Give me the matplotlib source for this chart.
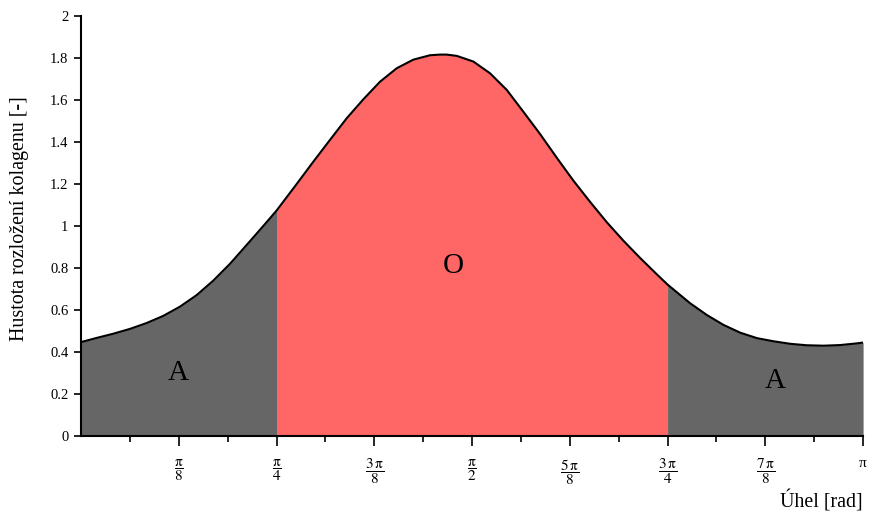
import numpy as np
import matplotlib
matplotlib.use("Agg")
import matplotlib.pyplot as plt

plt.rcParams['font.family'] = ['Liberation Serif', 'DejaVu Serif']
plt.rcParams['mathtext.fontset'] = 'stix'

# angle [rad] and density
angle = [0.0, 0.0630, 0.1299, 0.1968, 0.2639, 0.3306, 0.3977, 0.4648, 0.5315,
         0.5986, 0.6657, 0.7324, np.pi/4, 0.8665, 0.9332, 1.0003, 1.0674, 1.1341,
         1.2012, 1.2683, 1.3350, 1.4021, 1.4422, 1.4692, 1.5093, 1.5760, 1.6431,
         1.7102, 1.7769, 1.8440, 1.9111, 1.9778, 2.0449, 2.1120, 2.1787, 2.2458,
         2.3129, 3*np.pi/4, 2.4470, 2.5141, 2.5808, 2.6479, 2.7150, 2.7817, 2.8488,
         2.9155, 2.9826, 3.0497, 3.1164, np.pi]
density = [0.447, 0.467, 0.487, 0.510, 0.538, 0.572, 0.616, 0.671, 0.740,
           0.820, 0.910, 1.000, 1.073, 1.200, 1.306, 1.410, 1.513, 1.603,
           1.687, 1.751, 1.792, 1.813, 1.816, 1.816, 1.810, 1.783, 1.727,
           1.648, 1.544, 1.438, 1.325, 1.216, 1.115, 1.018, 0.930, 0.848,
           0.770, 0.721, 0.632, 0.576, 0.529, 0.492, 0.466, 0.451, 0.439,
           0.432, 0.430, 0.433, 0.441, 0.445]

x_ticks = [k*np.pi/8 for k in range(1, 9)]
x_labels = [r'$\dfrac{\mathrm{\pi}}{8}$', r'$\dfrac{\mathrm{\pi}}{4}$',
            r'$\dfrac{3\,\mathrm{\pi}}{8}$', r'$\dfrac{\mathrm{\pi}}{2}$',
            r'$\dfrac{5\,\mathrm{\pi}}{8}$', r'$\dfrac{3\,\mathrm{\pi}}{4}$',
            r'$\dfrac{7\,\mathrm{\pi}}{8}$', 'π']
x_minor = [k*np.pi/16 for k in range(1, 16, 2)]
y_ticks = [0, 0.2, 0.4, 0.6, 0.8, 1.0, 1.2, 1.4, 1.6, 1.8, 2.0]
y_labels = ['0', '0.2', '0.4', '0.6', '0.8', '1', '1.2', '1.4', '1.6', '1.8', '2']

region_labels = ['A', 'O', 'A']
region_pos = [(0.39, 0.30), (1.495, 0.81), (2.79, 0.26)]

x = np.array(angle)
y = np.array(density)

fig = plt.figure(figsize=(8.69, 5.15), dpi=100)
ax = fig.add_axes([0.0932, 0.1534, 0.9, 0.8156])

gray = '#666666'
red = '#FF6666'
lo, hi = np.pi/4, 3*np.pi/4
ax.fill_between(x, 0, y, where=(x <= lo + 1e-9), color=gray, lw=0)
ax.fill_between(x, 0, y, where=(x >= lo - 1e-9) & (x <= hi + 1e-9), color=red, lw=0)
ax.fill_between(x, 0, y, where=(x >= hi - 1e-9), color=gray, lw=0)
ax.plot(x, y, color='black', lw=1.5, solid_joinstyle='round')

for t, (px, py) in zip(region_labels, region_pos):
    ax.text(px, py, t, fontsize=21, ha='center', va='center', color='black')

ax.set_xlim(0, np.pi)
ax.set_ylim(0, 2)
ax.set_xticks(x_ticks)
ax.set_xticklabels(x_labels, fontsize=11)
ax.set_xticks(x_minor, minor=True)
ax.set_yticks(y_ticks)
ax.set_yticklabels(y_labels, fontsize=10.5)
ax.tick_params(axis='x', which='major', length=7, width=1.2, direction='out', pad=8)
ax.tick_params(axis='x', which='minor', length=4, width=1.2, direction='out')
ax.tick_params(axis='y', which='major', length=5, width=1.2, direction='out', pad=4)

for s in ['top', 'right']:
    ax.spines[s].set_visible(False)
for s in ['left', 'bottom']:
    ax.spines[s].set_linewidth(1.5)

fig.text(20/869, 1 - 219/515, 'Hustota rozložení kolagenu [-]', fontsize=14.4,
         rotation=90, ha='center', va='center')
fig.text(0.993, 0.004, 'Úhel [rad]', fontsize=14.4, ha='right', va='bottom')

fig.savefig('out.png', dpi=100)
